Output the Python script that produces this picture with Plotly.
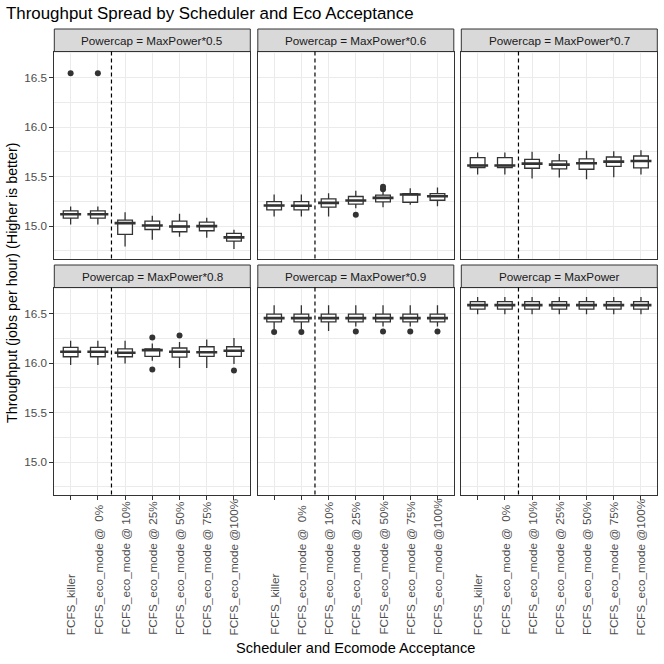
import plotly.graph_objects as go

schedulers = [
    "FCFS_killer",
    "FCFS_eco_mode @\u00a0\u00a00%",
    "FCFS_eco_mode @ 10%",
    "FCFS_eco_mode @ 25%",
    "FCFS_eco_mode @ 50%",
    "FCFS_eco_mode @ 75%",
    "FCFS_eco_mode @100%",
]
powercaps = ["MaxPower*0.5", "MaxPower*0.6", "MaxPower*0.7",
             "MaxPower*0.8", "MaxPower*0.9", "MaxPower"]

# box stats per powercap panel, one value per scheduler
whisker_low = [
    [15.017, 15.017, 14.795, 14.862, 14.893, 14.883, 14.768],
    [15.097, 15.097, 15.097, 15.181, 15.191, 15.215, 15.201],
    [15.520, 15.520, 15.480, 15.490, 15.473, 15.493, 15.520],
    [15.980, 15.980, 15.996, 16.024, 15.950, 15.950, 15.990],
    [16.343, 16.343, 16.323, 16.369, 16.369, 16.369, 16.369],
    [16.494, 16.494, 16.494, 16.494, 16.494, 16.494, 16.494],
]
q1 = [
    [15.080, 15.080, 14.916, 14.966, 14.943, 14.953, 14.848],
    [15.164, 15.164, 15.191, 15.221, 15.245, 15.241, 15.261],
    [15.591, 15.591, 15.584, 15.577, 15.574, 15.604, 15.588],
    [16.064, 16.064, 16.064, 16.067, 16.061, 16.067, 16.067],
    [16.416, 16.416, 16.416, 16.416, 16.416, 16.416, 16.416],
    [16.544, 16.544, 16.544, 16.544, 16.544, 16.544, 16.544],
]
median = [
    [15.120, 15.120, 15.030, 15.006, 14.996, 15.000, 14.886],
    [15.208, 15.205, 15.235, 15.258, 15.285, 15.319, 15.302],
    [15.612, 15.612, 15.631, 15.621, 15.634, 15.651, 15.658],
    [16.114, 16.114, 16.104, 16.131, 16.114, 16.110, 16.124],
    [16.454, 16.454, 16.454, 16.454, 16.454, 16.454, 16.454],
    [16.585, 16.585, 16.585, 16.585, 16.585, 16.585, 16.585],
]
q3 = [
    [15.154, 15.154, 15.060, 15.050, 15.050, 15.040, 14.926],
    [15.248, 15.248, 15.275, 15.299, 15.312, 15.329, 15.329],
    [15.691, 15.691, 15.674, 15.658, 15.678, 15.698, 15.708],
    [16.158, 16.158, 16.144, 16.144, 16.152, 16.165, 16.165],
    [16.494, 16.494, 16.494, 16.494, 16.494, 16.494, 16.494],
    [16.621, 16.621, 16.621, 16.621, 16.621, 16.621, 16.621],
]
whisker_high = [
    [15.198, 15.198, 15.140, 15.104, 15.124, 15.084, 14.963],
    [15.319, 15.319, 15.332, 15.356, 15.350, 15.382, 15.389],
    [15.742, 15.742, 15.752, 15.728, 15.762, 15.755, 15.765],
    [16.225, 16.225, 16.225, 16.198, 16.212, 16.238, 16.252],
    [16.585, 16.585, 16.585, 16.585, 16.585, 16.585, 16.585],
    [16.668, 16.668, 16.668, 16.668, 16.668, 16.668, 16.668],
]
outlier_panel = [0, 0, 1, 1, 1, 3, 3, 3, 3, 4, 4, 4, 4, 4, 4]
outlier_sched = [0, 1, 3, 4, 4, 3, 3, 4, 6, 0, 1, 3, 4, 5, 6]
outlier_value = [16.544, 16.544, 15.114, 15.372, 15.398, 16.258, 15.936,
                 16.278, 15.926, 16.313, 16.313, 16.319, 16.319, 16.319, 16.319]

separator = 1.5  # between killer and eco_mode groups (category index units)

W = H = 664
FONT = "Liberation Sans, Arial, sans-serif"
DARK = "#333333"
GRID = "#EBEBEB"

col_px = [(54.3, 250.3), (257.8, 453.8), (461.3, 657.3)]
row_px = [(51.5, 258.5), (287.5, 494.5)]
strip_px = [(29.0, 51.5), (265.0, 287.5)]


def px_x(v):
    return v / W


def px_y(v):
    return 1 - v / H


fig = go.Figure()
layout = {}
shapes = []
annotations = []

for p, cap in enumerate(powercaps):
    r, c = divmod(p, 3)
    sfx = "" if p == 0 else str(p + 1)
    xa, ya = "x" + sfx, "y" + sfx

    fig.add_trace(go.Box(
        x=schedulers, q1=q1[p], median=median[p], q3=q3[p],
        lowerfence=whisker_low[p], upperfence=whisker_high[p],
        width=0.54, whiskerwidth=0, boxpoints=False,
        fillcolor="white", line=dict(color=DARK, width=1.3),
        xaxis=xa, yaxis=ya, showlegend=False, hoverinfo="skip",
    ))
    # thicker median bar like ggplot
    fig.add_trace(go.Scatter(
        x=schedulers, y=median[p], mode="markers",
        marker=dict(symbol="line-ew", size=15, line=dict(color=DARK, width=2.6)),
        xaxis=xa, yaxis=ya, showlegend=False, hoverinfo="skip",
    ))
    ox = [schedulers[s] for pp, s in zip(outlier_panel, outlier_sched) if pp == p]
    oy = [v for pp, v in zip(outlier_panel, outlier_value) if pp == p]
    if ox:
        fig.add_trace(go.Scatter(
            x=ox, y=oy, mode="markers",
            marker=dict(symbol="circle", size=6, color=DARK),
            xaxis=xa, yaxis=ya, showlegend=False, hoverinfo="skip",
        ))

    x0, x1 = col_px[c]
    y0, y1 = row_px[r]
    bottom = r == 1
    left = c == 0
    layout["xaxis" + sfx] = dict(
        domain=[px_x(x0), px_x(x1)], anchor=ya,
        type="category", categoryorder="array", categoryarray=schedulers,
        range=[-0.6, 6.6], showticklabels=False,
        ticks="outside" if bottom else "", ticklen=4, tickcolor=DARK, tickwidth=1,
        showgrid=True, gridcolor=GRID, gridwidth=1,
        showline=True, linecolor=DARK, linewidth=1, mirror=True, zeroline=False,
    )
    layout["yaxis" + sfx] = dict(
        domain=[px_y(y1), px_y(y0)], anchor=xa,
        range=[14.673, 16.763], tickvals=[15.0, 15.5, 16.0, 16.5], tickformat=".1f",
        showticklabels=left, ticks="outside" if left else "", ticklen=4,
        tickcolor=DARK, tickwidth=1, tickfont=dict(size=11.7, color="#4D4D4D"),
        showgrid=True, gridcolor=GRID, gridwidth=1,
        minor=dict(tickvals=[14.75, 15.25, 15.75, 16.25, 16.75], showgrid=True,
                   gridcolor=GRID, gridwidth=0.6, ticks=""),
        showline=True, linecolor=DARK, linewidth=1, mirror=True, zeroline=False,
    )

    # strip
    s0, s1 = strip_px[r]
    shapes.append(dict(type="rect", xref="paper", yref="paper",
                       x0=px_x(x0), x1=px_x(x1), y0=px_y(s1), y1=px_y(s0),
                       fillcolor="#D9D9D9", line=dict(color=DARK, width=1), layer="below"))
    annotations.append(dict(text="Powercap = " + cap, xref="paper", yref="paper",
                            x=px_x((x0 + x1) / 2), y=px_y((s0 + s1) / 2),
                            xanchor="center", yanchor="middle", showarrow=False,
                            font=dict(size=11.7, color="#1A1A1A")))
    # dashed separator
    shapes.append(dict(type="line", xref=xa, yref=ya + " domain",
                       x0=separator, x1=separator, y0=0, y1=1,
                       line=dict(color="black", width=1.2, dash="4px,3px")))

    if bottom:
        for s in schedulers:
            annotations.append(dict(text=s, xref=xa, yref="paper", x=s, y=px_y(637),
                                    xanchor="center", yanchor="bottom", textangle=-90,
                                    showarrow=False, font=dict(size=11.7, color="#4D4D4D")))

annotations.append(dict(text="Scheduler and Ecomode Acceptance", xref="paper", yref="paper",
                        x=px_x(355.8), y=px_y(648), xanchor="center", yanchor="middle",
                        showarrow=False, font=dict(size=14.6, color="black")))
annotations.append(dict(text="Throughput (jobs per hour) (Higher is better)",
                        xref="paper", yref="paper", x=px_x(12), y=px_y(283),
                        xanchor="center", yanchor="middle", textangle=-90,
                        showarrow=False, font=dict(size=14.3, color="black")))

fig.update_layout(
    **layout,
    template="none",
    width=W, height=H, autosize=False,
    margin=dict(l=0, r=0, t=0, b=0),
    paper_bgcolor="white", plot_bgcolor="white",
    font=dict(family=FONT, size=11, color="black"),
    title=dict(text="Throughput Spread by Scheduler and Eco Acceptance",
               x=px_x(6), xanchor="left", y=px_y(13), yanchor="middle",
               font=dict(size=16.9, color="black")),
    shapes=shapes, annotations=annotations, showlegend=False,
)

fig.write_html("out.html", config={"displayModeBar": False},
               post_script="document.body.style.margin='0';")
